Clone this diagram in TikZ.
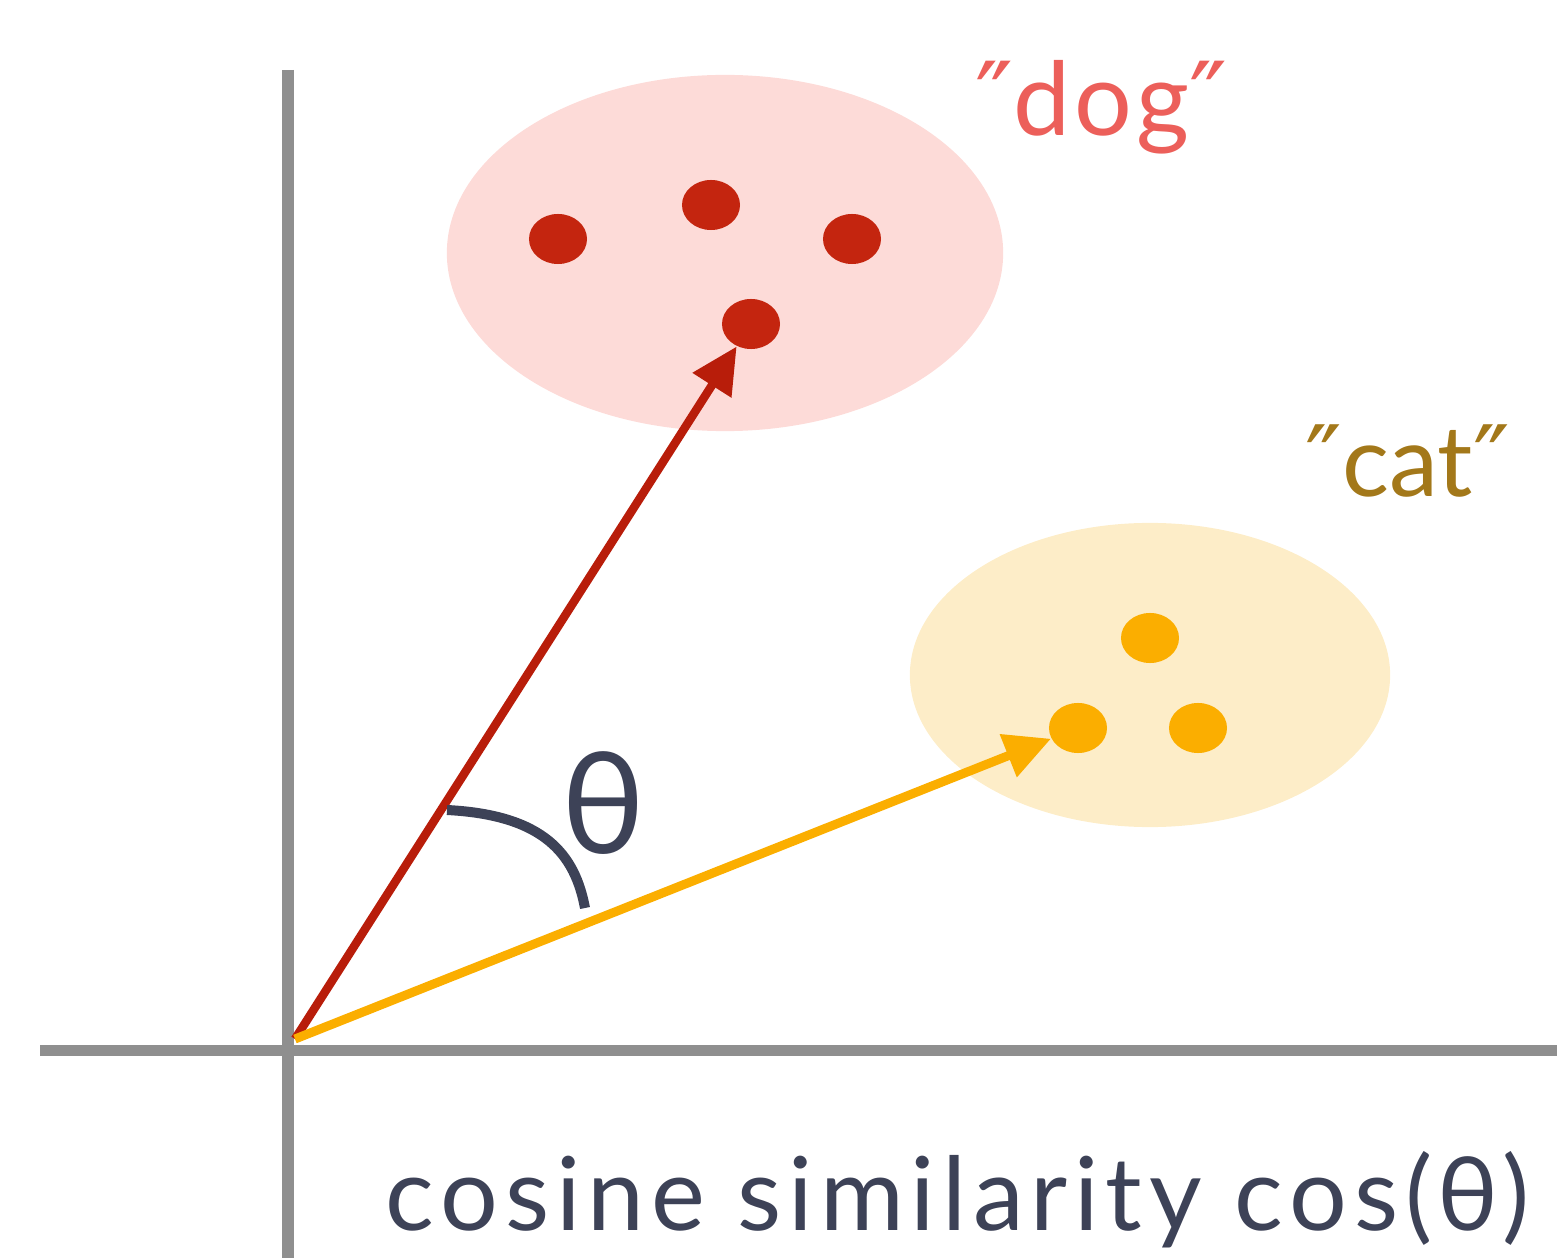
\documentclass[tikz,border=0pt]{standalone}
\usepackage{fontspec}
\setmainfont{Lato}
\newfontfamily\symfont{DejaVu Sans}
\usetikzlibrary{arrows.meta,shapes.geometric}
\definecolor{axisgray}{HTML}{8F8F8F}
\definecolor{dogbg}{HTML}{FDDBD8}
\definecolor{catbg}{HTML}{FDEDC8}
\definecolor{dogdot}{HTML}{C4250F}
\definecolor{dogline}{HTML}{B81D0A}
\definecolor{catdot}{HTML}{FBAE00}
\definecolor{dogtext}{HTML}{EC5F5A}
\definecolor{cattext}{HTML}{A3781A}
\definecolor{ink}{HTML}{3D4257}
\tikzset{
  axisline/.style={draw=axisgray, line width=0.11cm},
  dot/.style={ellipse, inner sep=0pt, minimum width=0.58cm, minimum height=0.5cm},
  dogpt/.style={dot, fill=dogdot},
  catpt/.style={dot, fill=catdot},
  vec/.style={line width=0.085cm, -{Triangle[length=0.46cm,width=0.44cm]}},
  lbl/.style={inner sep=0pt, anchor=base west}
}
\begin{document}
\begin{tikzpicture}[x=0.01cm,y=-0.01cm]
\useasboundingbox (0,0) rectangle (1557,1258);
% clusters
\fill[dogbg] (725,253) ellipse [x radius=2.78cm, y radius=1.78cm];
\fill[catbg] (1150,675) ellipse [x radius=2.40cm, y radius=1.52cm];
% axes
\draw[axisline] (288,70) -- (288,1258);
\draw[axisline] (40,1050) -- (1557,1050);
% points
\node[dogpt] (d1) at (558,239) {};
\node[dogpt] (d2) at (711,205) {};
\node[dogpt] (d3) at (852,239) {};
\node[dogpt] (d4) at (751,324) {};
\node[catpt] (c1) at (1150,638) {};
\node[catpt] (c2) at (1078,728) {};
\node[catpt] (c3) at (1198,728) {};
% origin
\coordinate (o) at (295,1039);
\draw[vec, draw=dogline, fill=dogdot] (o) -- (d4);
\draw[vec, draw=catdot, fill=catdot, line width=0.09cm] (o) -- (c2);
% angle
\coordinate (a1) at (447,810);
\coordinate (a2) at (585,908);
\draw[ink, line width=0.1cm] (a1) .. controls (545,815) and (575,855) .. (a2);
\node[inner sep=0pt, text=ink, font=\fontsize{40}{44}\selectfont] (th) at (603,803) {θ};
% labels
\node[lbl, text=dogtext, font=\fontsize{29}{32}\selectfont\addfontfeatures{LetterSpace=4}] (dog) at (975,136) {{\symfont ″}dog{\symfont ″}};
\node[lbl, text=cattext, font=\fontsize{28}{32}\selectfont] (cat) at (1305,497) {{\symfont ″}cat{\symfont ″}};
\node[lbl, text=ink, font=\fontsize{29}{32}\selectfont\addfontfeatures{LetterSpace=6.7}] (cap) at (385,1230) {cosine similarity cos(θ)};
\end{tikzpicture}
\end{document}
